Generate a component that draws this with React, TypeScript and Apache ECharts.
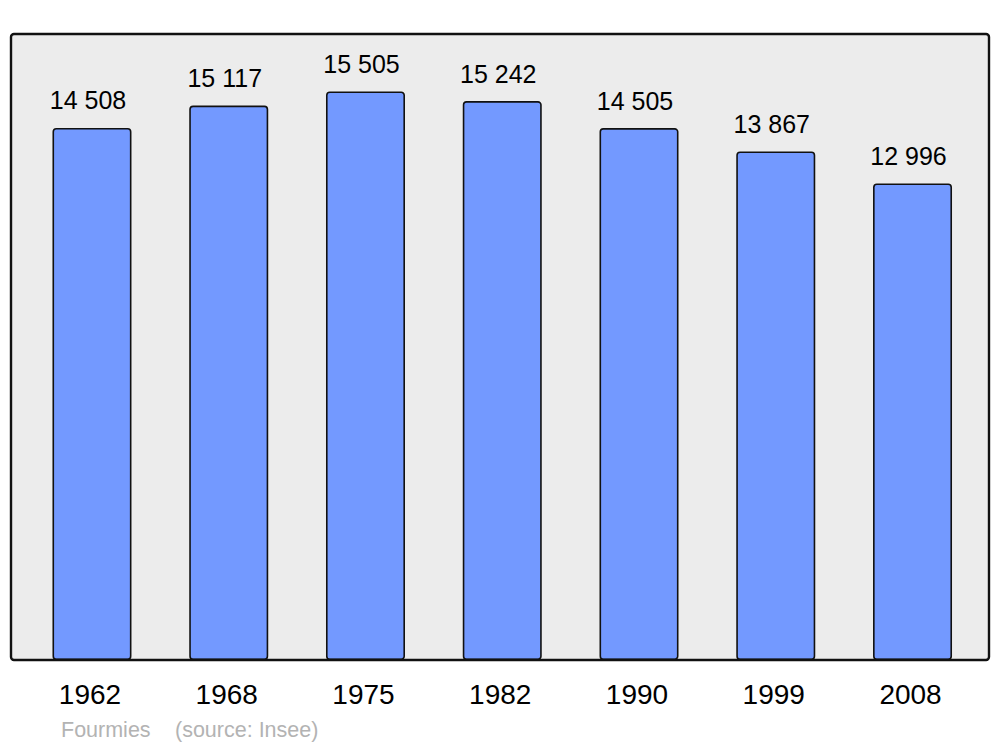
import React, { useEffect, useRef } from "react";
import * as echarts from "echarts";

const years = ["1962", "1968", "1975", "1982", "1990", "1999", "2008"];
const population = [14508, 15117, 15505, 15242, 14505, 13867, 12996];
const townName = "Fourmies";
const sourceText = "(source: Insee)";

const fmt = (v: number) => {
  const s = String(v);
  return s.replace(/\B(?=(\d{3})+(?!\d))/g, " ");
};

export default function App() {
  const ref = useRef<HTMLDivElement>(null);
  useEffect(() => {
    if (!ref.current) return;
    const chart = echarts.init(ref.current, null, { renderer: "svg" });
    const font = "'Liberation Sans', Arial, sans-serif";
    chart.setOption({
      animation: false,
      textStyle: { fontFamily: font },
      grid: { left: 23.6, top: 34, width: 957.3, height: 626, containLabel: false },
      xAxis: {
        type: "category",
        data: years,
        axisLine: { show: false },
        axisTick: { show: false },
        axisLabel: {
          fontSize: 28,
          color: "#000",
          margin: 20,
          fontFamily: font,
          padding: [0, 4, 0, 0],
        },
      },
      yAxis: {
        type: "value",
        min: 0,
        max: 17070,
        show: false,
        splitLine: { show: false },
      },
      graphic: [
        {
          type: "rect",
          z: -10,
          shape: { x: 11, y: 34, width: 978, height: 626, r: 3 },
          style: { fill: "#ececec", stroke: "none" },
        },
        {
          type: "rect",
          z: 100,
          shape: { x: 11, y: 34, width: 978, height: 626, r: 3 },
          style: { fill: "none", stroke: "#111", lineWidth: 2.4 },
        },
        {
          type: "text",
          left: 61,
          top: 719,
          style: { text: townName, fontSize: 21.5, fill: "#b3b3b3", fontFamily: font },
        },
        {
          type: "text",
          left: 175,
          top: 719,
          style: { text: sourceText, fontSize: 21.5, fill: "#b3b3b3", fontFamily: font },
        },
      ],
      series: [
        {
          type: "bar",
          data: population,
          barWidth: 79,
          itemStyle: {
            color: "#7399ff",
            borderColor: "#111",
            borderWidth: 1.6,
            borderRadius: 3,
          },
          label: {
            show: true,
            position: "top",
            distance: 15,
            offset: [-4, 0],
            fontSize: 25,
            color: "#000",
            fontFamily: font,
            formatter: (p: any) => fmt(p.value),
          },
        },
      ],
    });
    return () => chart.dispose();
  }, []);
  return <div ref={ref} style={{ width: 1000, height: 747, position: "absolute", left: 0, top: 0 }} />;
}
